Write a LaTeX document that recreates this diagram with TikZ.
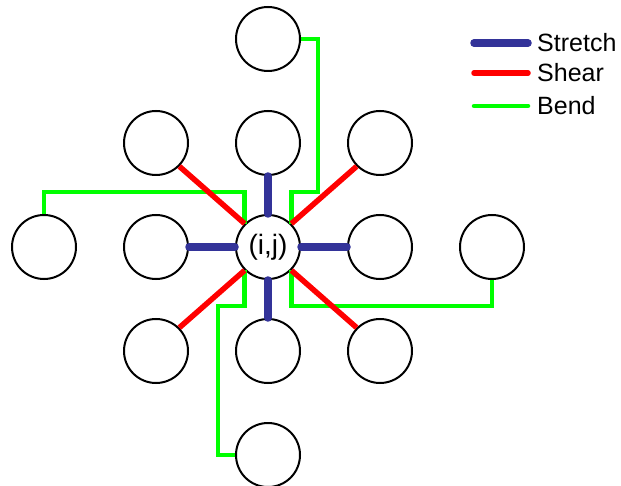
\documentclass[tikz,border=0pt]{standalone}
\usepackage{fontspec}
\setmainfont{Liberation Sans}
\begin{document}
\begin{tikzpicture}[x=1pt,y=-1pt,
  cell/.style={draw=black,circle,minimum size=64pt,inner sep=0pt,line width=2pt},
  stretchln/.style={draw={rgb,255:red,51;green,51;blue,153},line width=7.5pt,line cap=round},
  shearln/.style={draw=red,line width=5.5pt},
  bendln/.style={draw={rgb,255:red,0;green,255;blue,0},line width=4.5pt},
  legtext/.style={anchor=west,inner sep=0pt,font=\fontsize{25}{28}\selectfont}]
\useasboundingbox (0,0) rectangle (621,486);
% nodes
\node[cell] (tt) at (268,39) {};
\node[cell] (tl) at (156,143) {};
\node[cell] (t)  at (268,143) {};
\node[cell] (tr) at (380,143) {};
\node[cell] (ll) at (44,247) {};
\node[cell] (l)  at (156,247) {};
\node[cell,font=\fontsize{28}{30}\selectfont] (c) at (268,247) {(i,j)};
\node[cell] (r)  at (380,247) {};
\node[cell] (rr) at (492,247) {};
\node[cell] (bl) at (156,351) {};
\node[cell] (b)  at (268,351) {};
\node[cell] (br) at (380,351) {};
\node[cell] (bb) at (268,455) {};
% helper coordinates
\coordinate (htop) at (0,192);
\coordinate (hbot) at (0,306);
\coordinate (vR) at (318,0);
\coordinate (vL) at (218,0);
% bend
\draw[bendln] (tt.east) -- (vR |- tt.east) -- (vR |- htop) -- (c.north east |- htop) -- (c.north east);
\draw[bendln] (ll.north) -- (ll.north |- htop) -- (c.north west |- htop) -- (c.north west);
\draw[bendln] (rr.south) -- (rr.south |- hbot) -- (c.south east |- hbot) -- (c.south east);
\draw[bendln] (bb.west) -- (vL |- bb.west) -- (vL |- hbot) -- (c.south west |- hbot) -- (c.south west);
% shear
\draw[shearln] (tl.south east) -- (c.north west);
\draw[shearln] (tr.south west) -- (c.north east);
\draw[shearln] (bl.north east) -- (c.south west);
\draw[shearln] (br.north west) -- (c.south east);
% stretch
\draw[stretchln] (t.south) -- (c.north);
\draw[stretchln] (b.north) -- (c.south);
\draw[stretchln] (l.east) -- (c.west);
\draw[stretchln] (r.west) -- (c.east);
% legend
\coordinate (s1) at (474,43); \coordinate (s2) at (528,43);
\coordinate (h1) at (474,73); \coordinate (h2) at (528,73);
\coordinate (g1) at (474,106); \coordinate (g2) at (528,106);
\draw[stretchln] (s1) -- (s2);
\draw[shearln,line cap=round] (h1) -- (h2);
\draw[bendln,line cap=round] (g1) -- (g2);
\node[legtext] (ls) at (537,43) {Stretch};
\node[legtext] (lh) at (537,73) {Shear};
\node[legtext] (lg) at (537,106) {Bend};
\end{tikzpicture}
\end{document}
